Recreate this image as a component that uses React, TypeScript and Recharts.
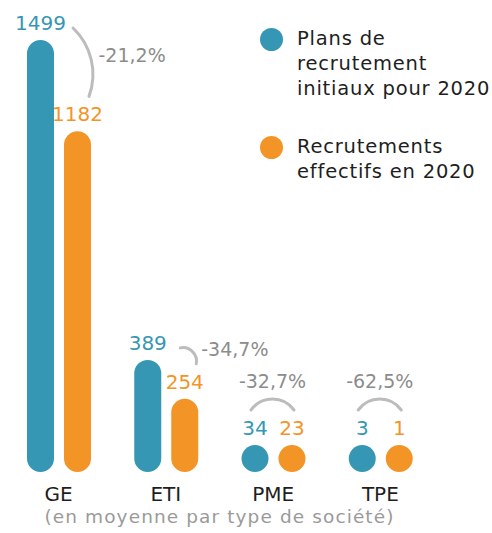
import { BarChart, Bar, XAxis, YAxis, Legend, LabelList } from 'recharts';

// valeurs
const categories = ['GE', 'ETI', 'PME', 'TPE'];
const plansInitiaux = [1499, 389, 34, 3];
const recrutementsEffectifs = [1182, 254, 23, 1];
const variations = ['-21,2%', '-34,7%', '-32,7%', '-62,5%'];
const seriesNames = ['Plans de recrutement initiaux pour 2020', 'Recrutements effectifs en 2020'];
const legendLines = [
  ['Plans de', 'recrutement', 'initiaux pour 2020'],
  ['Recrutements', 'effectifs en 2020'],
];
const subtitle = '(en moyenne par type de société)';

const data = categories.map((type, i) => ({
  type,
  plans: plansInitiaux[i],
  effectifs: recrutementsEffectifs[i],
  variation: variations[i],
}));

const BLEU = '#3597b4';
const ORANGE = '#f39426';
const GRIS = '#8c8c8c';
const ARC = '#bcbcbc';
const TEXTE = '#1e1e1e';
const FONT = '"DejaVu Sans", sans-serif';

const BAR = 27;
const GAP = 10;
const MIN_BAR = 27;

// arc + pourcentage, calé sur la barre bleue
const VariationArc = (props: any) => {
  const { x, y, width, height, value, index } = props;
  const base = y + height;
  const k = height / plansInitiaux[index];
  const hOrange = Math.max(MIN_BAR, recrutementsEffectifs[index] * k);
  const topB = y;
  const topO = base - hOrange;
  const xO = x + width + GAP;

  if (topO - topB > 20) {
    const sx = x + width + 19;
    const sy = topB - 12;
    const ex = xO + width - 2;
    const ey = topO - 35;
    const chord = Math.hypot(ex - sx, ey - sy);
    const sag = Math.max(6, chord * 0.15);
    const r = (chord * chord) / 4 / (2 * sag) + sag / 2;
    return (
      <g>
        <path d={`M${sx},${sy} A${r},${r} 0 0 1 ${ex},${ey}`} fill="none" stroke={ARC} strokeWidth={3} strokeLinecap="round" />
        <text x={(sx + ex) / 2 + sag + 7} y={(sy + ey) / 2} fill={GRIS} fontSize={19} fontFamily={FONT}>
          {value}
        </text>
      </g>
    );
  }

  const sx = x + width / 2 - 4;
  const ex = xO + width / 2 + 2;
  const ay = Math.min(topB, topO) - 35;
  const chord = ex - sx;
  const sag = 11;
  const r = (chord * chord) / 4 / (2 * sag) + sag / 2;
  return (
    <g>
      <path d={`M${sx},${ay} A${r},${r} 0 0 1 ${ex},${ay}`} fill="none" stroke={ARC} strokeWidth={3} strokeLinecap="round" />
      <text x={(sx + ex) / 2} y={ay - 22} textAnchor="middle" fill={GRIS} fontSize={19} fontFamily={FONT}>
        {value}
      </text>
    </g>
  );
};

const renderLegend = (props: any) => {
  const { payload } = props;
  return (
    <div style={{ fontFamily: FONT, fontSize: 19.5, letterSpacing: 0.8, color: TEXTE }}>
      {legendLines.map((lines, i) => (
        <div key={i} style={{ position: 'relative', paddingLeft: 37, marginBottom: 33 }}>
          <span
            style={{
              position: 'absolute',
              left: 0,
              top: 2,
              width: 23,
              height: 23,
              borderRadius: '50%',
              background: payload?.[i]?.color,
            }}
          />
          {lines.map((l) => (
            <div key={l} style={{ lineHeight: '25px', whiteSpace: 'nowrap' }}>{l}</div>
          ))}
        </div>
      ))}
    </div>
  );
};

export default function App() {
  return (
    <div style={{ position: 'absolute', left: 0, top: 0 }}>
      <BarChart
        width={492}
        height={533}
        data={data}
        margin={{ top: 40, right: 58, left: 5, bottom: 31 }}
        barSize={BAR}
        barGap={GAP}
      >
        <XAxis
          dataKey="type"
          axisLine={false}
          tickLine={false}
          interval={0}
          tickMargin={9}
          tick={{ fill: TEXTE, fontSize: 20, fontFamily: FONT }}
          label={{ value: subtitle, position: 'bottom', offset: 8, fill: '#9a9a9a', fontSize: 18.5, fontFamily: FONT, letterSpacing: 1.1 }}
        />
        <YAxis hide domain={[0, 'dataMax']} />
        <Legend
          layout="vertical"
          align="center"
          verticalAlign="middle"
          content={renderLegend}
          wrapperStyle={{ left: 260, top: 26, width: 232 }}
        />
        <Bar dataKey="plans" name={seriesNames[0]} fill={BLEU} radius={BAR / 2} minPointSize={MIN_BAR} isAnimationActive={false}>
          <LabelList dataKey="plans" position="top" offset={10} fill={BLEU} fontSize={20} fontFamily={FONT} />
          <LabelList dataKey="variation" content={VariationArc} />
        </Bar>
        <Bar dataKey="effectifs" name={seriesNames[1]} fill={ORANGE} radius={BAR / 2} minPointSize={MIN_BAR} isAnimationActive={false}>
          <LabelList dataKey="effectifs" position="top" offset={10} fill={ORANGE} fontSize={20} fontFamily={FONT} />
        </Bar>
      </BarChart>
    </div>
  );
}
